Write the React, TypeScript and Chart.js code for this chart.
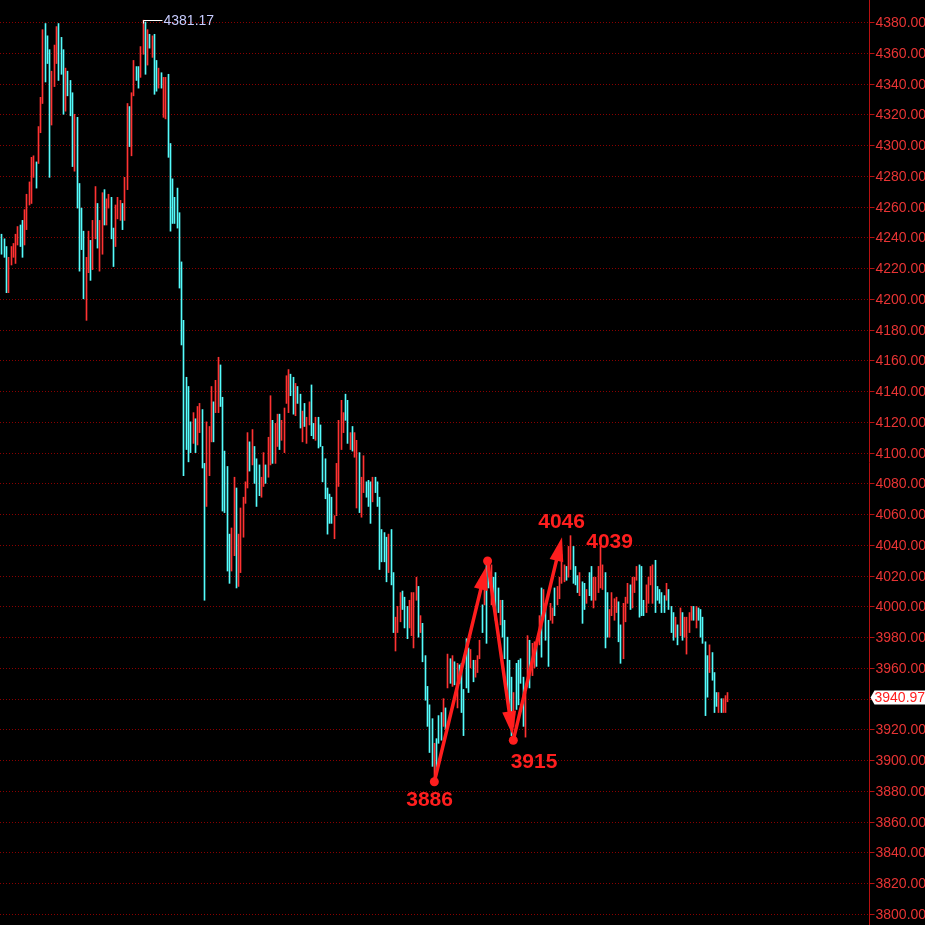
import React, { useEffect, useRef } from 'react';
import { Chart, registerables } from 'chart.js';

Chart.register(...registerables);

// ---- data ----
// bar highs (one per trading bar, left to right)
const highs = [
  // segment A
  4242, 4239, 4234, 4227, 4234, 4236, 4242, 4247, 4248, 4251, 4258, 4268, 4276, 4292, 4293, 4289, 4312, 4331, 4375, 4379,
  4371, 4362, 4348, 4365, 4377, 4379, 4370, 4362, 4350, 4348, 4342, 4334, 4320, 4318, 4275, 4259, 4244, 4227, 4244,
  // segment B
  4238, 4251, 4273, 4262, 4251, 4269, 4271, 4265, 4268, 4266, 4246, 4261, 4266, 4264, 4262, 4279, 4327, 4325, 4334, 4355,
  4351, 4351, 4364, 4381.17, 4380, 4375, 4372, 4371, 4372, 4355, 4350, 4347, 4344, 4344, 4346, 4301, 4278, 4266, 4272, 4256,
  // segment C
  4224, 4186, 4149, 4143, 4120, 4126, 4122, 4130, 4132, 4128, 4093, 4120, 4117, 4143, 4133, 4147, 4162, 4157, 4136, 4101,
  4091, 4047, 4051, 4084, 4077, 4047, 4064, 4071, 4081, 4113, 4107, 4115, 4104, 4096, 4092, 4084, 4100, 4092, 4110, 4137,
  4121, 4119, 4125, 4125, 4121, 4129, 4150, 4154, 4151, 4149, 4145, 4143, 4138,
  // segment D
  4127, 4132, 4123, 4133, 4144, 4119, 4123, 4123, 4118, 4104, 4096, 4077, 4073, 4071, 4059, 4093, 4121, 4134, 4126, 4138,
  4134, 4113, 4117, 4113, 4108, 4100, 4084, 4098, 4081, 4082, 4081, 4084, 4084, 4081, 4071, 4050, 4048, 4045, 4047, 4050,
  4022, 3993, 4000, 4009, 4010, 4006, 4000, 4004, 4009, 4009, 4019, 4013,
  // segment E
  3994, 3989, 3968, 3948, 3936, 3927, 3911, 3914, 3929, 3931, 3940, 3934, 3969, 3966, 3968, 3964, 3963, 3962, 3963, 3946,
  3979, 3973, 3972, 3965, 3965, 3968, 3978, 4001, 4013, 4030, 4027, 4027, 4019, 4022, 4012, 4004, 4004, 3991, 3980, 3965,
  3954, 3944, 3963, 3965, 3966, 3954, 3944, 3981, 3978, 3976, 3977, 3975, 3994, 4012, 4011, 4002, 3991, 4002, 3999, 4012,
  4013, 4019,
  // segment F
  4034, 4027, 4026, 4039, 4046, 4039, 4026, 4020, 4022, 4016, 4015, 4011, 4022, 4026, 4019, 4019, 4026,
  // segment G
  4039, 4027, 4022, 4009, 3998, 4009, 4005, 4006, 4003, 3988, 4002, 4006, 4015, 4014, 4019, 4019, 4026, 4027, 4026, 4004,
  4014, 4019, 4026, 4027, 4030, 4013, 4011, 4009, 4007, 4015, 4011, 4000, 3996, 3993, 3988, 3999, 3996, 3993, 3993, 3996,
  4000, 4000, 4000, 3999, 3998, 3993, 3977, 3968, 3975, 3970, 3957, 3944, 3944, 3940, 3940, 3942, 3944,
];

// bar lows
const lows = [
  4229, 4227, 4204, 4204, 4222, 4227, 4223, 4235, 4234, 4227, 4235, 4245, 4261, 4262, 4279, 4272, 4288, 4308, 4327, 4341,
  4353, 4279, 4313, 4338, 4353, 4342, 4346, 4320, 4322, 4332, 4319, 4286, 4283, 4259, 4218, 4232, 4200, 4186, 4217,
  4212, 4219, 4239, 4233, 4218, 4229, 4248, 4248, 4259, 4239, 4221, 4234, 4252, 4251, 4245, 4251, 4271, 4299, 4293, 4332,
  4342, 4337, 4344, 4359, 4346, 4352, 4363, 4357, 4333, 4335, 4337, 4337, 4318, 4317, 4292, 4244, 4249, 4249, 4246, 4207,
  4170, 4085, 4102, 4094, 4100, 4106, 4100, 4105, 4113, 4090, 4004, 4065, 4085, 4107, 4107, 4126, 4126, 4130, 4062, 4061,
  4023, 4015, 4023, 4033, 4012, 4013, 4022, 4045, 4067, 4077, 4088, 4092, 4080, 4065, 4072, 4071, 4078, 4080, 4084, 4092,
  4093, 4093, 4104, 4102, 4108, 4100, 4132, 4126, 4137, 4125, 4124, 4132, 4116,
  4107, 4117, 4106, 4118, 4111, 4109, 4108, 4103, 4104, 4081, 4070, 4047, 4054, 4054, 4044, 4059, 4078, 4102, 4113, 4121,
  4106, 4102, 4101, 4097, 4064, 4061, 4058, 4074, 4071, 4065, 4054, 4068, 4074, 4065, 4024, 4029, 4029, 4016, 4022, 4014,
  3983, 3971, 3983, 3990, 3998, 3986, 3979, 3986, 3981, 3973, 4004, 3980,
  3983, 3964, 3939, 3922, 3905, 3896, 3886, 3892, 3911, 3913, 3922, 3920, 3947, 3950, 3948, 3949, 3934, 3950, 3931, 3916,
  3947, 3944, 3960, 3951, 3954, 3957, 3966, 3983, 4001, 3976, 4012, 4001, 4000, 3991, 3996, 3988, 3980, 3966, 3941, 3923,
  3916, 3922, 3933, 3936, 3950, 3922, 3915, 3953, 3947, 3955, 3960, 3961, 3975, 3967, 3996, 3978, 3961, 3991, 3989, 3994,
  4001, 4005,
  4015, 4016, 4017, 4019, 4024, 4015, 4014, 4009, 4007, 3989, 3998, 4002, 4007, 4004, 3999, 4004, 4009,
  4012, 4011, 3973, 3980, 3980, 3994, 3991, 3996, 3977, 3963, 3966, 3990, 4002, 3998, 3999, 4009, 4017, 3993, 3994, 3994,
  3996, 4002, 4014, 4002, 3996, 4004, 4002, 3996, 3996, 4004, 3998, 3983, 3978, 3980, 3975, 3981, 3978, 3980, 3969, 3983,
  3991, 3991, 3986, 3991, 3980, 3976, 3929, 3941, 3957, 3952, 3931, 3935, 3931, 3931, 3931, 3931, 3938,
];

// 1 = up bar (red), 0 = down bar (cyan)
const ups = [
  0, 0, 0, 1, 1, 1, 1, 1, 0, 0, 1, 1, 1, 1, 1, 0, 1, 1, 1, 0, 0, 0, 1, 1, 1, 0, 0, 0, 1, 0, 0, 0, 1, 0, 0, 0, 0, 1, 1,
  0, 1, 1, 0, 1, 1, 0, 1, 1, 0, 0, 1, 1, 1, 0, 1, 1, 0, 1, 1, 0, 0, 1, 1, 0, 1, 0, 1, 0, 0, 1, 0, 1, 1, 0, 0, 0, 0, 0, 0,
  0, 0, 0, 0, 0, 1, 0, 1, 1, 0, 0, 1, 1, 1, 0, 1, 1, 0, 0, 0, 0, 0, 1, 1, 0, 1, 1, 1, 1, 1, 0, 1, 0, 0, 0, 1, 1, 0, 1, 1,
  0, 1, 1, 0, 1, 1, 1, 1, 0, 0, 1, 0, 0,
  1, 0, 1, 1, 0, 0, 1, 0, 0, 0, 0, 0, 0, 0, 1, 1, 1, 1, 1, 0, 0, 1, 0, 1, 1, 0, 1, 1, 0, 0, 0, 1, 0, 0, 0, 0, 0, 0, 1, 0,
  0, 1, 1, 1, 0, 0, 0, 1, 1, 1, 1, 0,
  1, 0, 0, 0, 0, 0, 1, 0, 0, 0, 1, 0, 1, 0, 1, 0, 1, 0, 0, 0, 0, 0, 1, 0, 1, 1, 1, 0, 1, 0, 0, 1, 0, 0, 0, 1, 0, 0, 0, 0,
  0, 1, 0, 0, 0, 0, 1, 1, 0, 1, 1, 0, 1, 0, 1, 0, 0, 1, 1, 0, 1, 1,
  1, 1, 0, 1, 1, 0, 0, 0, 1, 0, 0, 1, 0, 0, 1, 1, 1,
  1, 1, 0, 0, 1, 1, 1, 1, 0, 0, 1, 1, 1, 0, 1, 1, 1, 0, 0, 0, 1, 1, 1, 1, 0, 0, 0, 0, 0, 1, 0, 0, 0, 1, 0, 1, 0, 1, 1, 1,
  1, 0, 1, 0, 0, 0, 0, 0, 1, 0, 0, 0, 1, 0, 1, 1, 1,
];

// right axis tick labels
const tickValues = [
  3800, 3820, 3840, 3860, 3880, 3900, 3920, 3940, 3960, 3980, 4000, 4020, 4040, 4060, 4080,
  4100, 4120, 4140, 4160, 4180, 4200, 4220, 4240, 4260, 4280, 4300, 4320, 4340, 4360, 4380,
];

const lastPrice = 3940.97;
const peakIndex = 62;
const peakValue = 4381.17;

// zig-zag annotation (bar index, price)
const zigIdx = [190, 213.4, 224.7, 246.1];
const zigVal = [3886, 4029.5, 3913, 4045];

// annotation labels (bar index, price at text centre)
const noteText = ['3886', '3915', '4046', '4039'];
const noteIdx = [187.9, 233.8, 245.9, 267.0];
const noteVal = [3873.8, 3898.5, 4054.9, 4041.9];

// ---- styling ----
const UP = '#ff3232';
const DOWN = '#54fcfc';
const GRID = '#8a0000';
const AXIS = '#b81010';
const LABEL = '#e83434';
const NOTE = '#ff1e1e';
const FONT = '"Liberation Sans", Arial, sans-serif';

const overlay = {
  id: 'overlay',
  beforeDraw(chart: any) {
    const c = chart.ctx;
    c.save();
    c.fillStyle = '#000';
    c.fillRect(0, 0, chart.width, chart.height);
    c.restore();
  },
  beforeDatasetsDraw(chart: any) {
    const { ctx, chartArea, scales } = chart;
    const y = scales.y;
    ctx.save();
    ctx.strokeStyle = GRID;
    ctx.lineWidth = 1;
    ctx.setLineDash([1, 2]);
    for (const v of tickValues) {
      const py = Math.round(y.getPixelForValue(v)) + 0.5;
      ctx.beginPath();
      ctx.moveTo(chartArea.left, py);
      ctx.lineTo(chartArea.right, py);
      ctx.stroke();
    }
    ctx.restore();
    const meta = chart.getDatasetMeta(0);
    meta.data.forEach((el: any) => {
      el.x = Math.floor(el.x) + 0.5;
    });
  },
  afterDatasetsDraw(chart: any) {
    const { ctx, chartArea, scales } = chart;
    const x = scales.x;
    const y = scales.y;
    const W = chart.width;
    const H = chart.height;
    ctx.save();

    // axis line
    const ax = chartArea.right + 0.5;
    ctx.strokeStyle = AXIS;
    ctx.lineWidth = 1;
    ctx.beginPath();
    ctx.moveTo(ax, 0);
    ctx.lineTo(ax, H);
    ctx.stroke();

    // ticks and labels
    ctx.font = `14px ${FONT}`;
    ctx.textBaseline = 'middle';
    ctx.textAlign = 'left';
    for (const v of tickValues) {
      const py = Math.round(y.getPixelForValue(v)) + 0.5;
      ctx.strokeStyle = AXIS;
      ctx.beginPath();
      ctx.moveTo(ax, py);
      ctx.lineTo(ax + 5, py);
      ctx.stroke();
      ctx.fillStyle = LABEL;
      ctx.fillText(v.toFixed(2), ax + 6, py + 0.5);
    }

    // peak marker
    const meta = chart.getDatasetMeta(0);
    const pel = meta.data[peakIndex];
    const ppx = pel ? pel.x : x.getPixelForValue(peakIndex);
    const ppy = Math.round(y.getPixelForValue(peakValue)) + 0.5;
    ctx.strokeStyle = '#ffffff';
    ctx.lineWidth = 1;
    ctx.beginPath();
    ctx.moveTo(ppx, ppy + 3);
    ctx.lineTo(ppx, ppy);
    ctx.lineTo(ppx + 19, ppy);
    ctx.stroke();
    ctx.fillStyle = '#c8ccff';
    ctx.font = `14px ${FONT}`;
    ctx.fillText(peakValue.toFixed(2), ppx + 20, ppy + 0.5);

    // zig-zag arrows
    const pts = zigIdx.map((ix, i) => ({ x: x.getPixelForValue(ix), y: y.getPixelForValue(zigVal[i]) }));
    ctx.strokeStyle = NOTE;
    ctx.fillStyle = NOTE;
    ctx.lineWidth = 3.5;
    ctx.lineCap = 'round';
    const headLen = 24;
    const headHalf = 7;
    for (let k = 0; k < pts.length - 1; k++) {
      const a = pts[k];
      const b = pts[k + 1];
      const dx = b.x - a.x;
      const dy = b.y - a.y;
      const len = Math.hypot(dx, dy);
      const ux = dx / len;
      const uy = dy / len;
      const back = k < pts.length - 2 ? 5 : 0;
      const tx = b.x - ux * back;
      const ty = b.y - uy * back;
      const bx = tx - ux * headLen;
      const by = ty - uy * headLen;
      ctx.beginPath();
      ctx.moveTo(a.x, a.y);
      ctx.lineTo(bx + ux * 4, by + uy * 4);
      ctx.stroke();
      ctx.beginPath();
      ctx.moveTo(tx, ty);
      ctx.lineTo(bx - uy * headHalf, by + ux * headHalf);
      ctx.lineTo(bx + uy * headHalf, by - ux * headHalf);
      ctx.closePath();
      ctx.fill();
    }
    for (let k = 0; k < pts.length - 1; k++) {
      ctx.beginPath();
      ctx.arc(pts[k].x, pts[k].y, 4.5, 0, Math.PI * 2);
      ctx.fill();
    }

    // labels
    ctx.font = `bold 21px ${FONT}`;
    ctx.textAlign = 'center';
    ctx.textBaseline = 'middle';
    noteText.forEach((t, i) => {
      ctx.fillText(t, x.getPixelForValue(noteIdx[i]), y.getPixelForValue(noteVal[i]));
    });

    // last price tag
    const ly = Math.round(y.getPixelForValue(lastPrice)) + 0.5;
    ctx.fillStyle = '#ffffff';
    ctx.beginPath();
    ctx.moveTo(ax + 1, ly);
    ctx.lineTo(ax + 5, ly - 7);
    ctx.lineTo(W, ly - 7);
    ctx.lineTo(W, ly + 7);
    ctx.lineTo(ax + 5, ly + 7);
    ctx.closePath();
    ctx.fill();
    ctx.fillStyle = '#ff2020';
    ctx.font = `14px ${FONT}`;
    ctx.textAlign = 'left';
    ctx.fillText(lastPrice.toFixed(2), ax + 5, ly + 0.5);

    ctx.restore();
  },
};

export default function App() {
  const ref = useRef<HTMLCanvasElement | null>(null);

  useEffect(() => {
    if (!ref.current) return;
    const data = highs.map((h, i) => ({ x: i, y: [lows[i], h] }));
    const chart = new Chart(ref.current, {
      type: 'bar',
      data: {
        datasets: [
          {
            data: data as any,
            backgroundColor: ups.map((u) => (u ? UP : DOWN)),
            borderWidth: 0,
            barThickness: 1,
            grouped: false,
          } as any,
        ],
      },
      options: {
        responsive: false,
        animation: false,
        devicePixelRatio: 1,
        layout: { padding: { left: 0, right: 56, top: 0, bottom: 0 } },
        plugins: { legend: { display: false }, tooltip: { enabled: false } },
        scales: {
          x: { type: 'linear', min: -0.835, max: 380.98, display: false, offset: false },
          y: { type: 'linear', min: 3792.85, max: 4394.3, display: false },
        },
      },
      plugins: [overlay],
    });
    return () => chart.destroy();
  }, []);

  return (
    <div style={{ position: 'fixed', left: 0, top: 0, width: 925, height: 925, background: '#000' }}>
      <canvas ref={ref} width={925} height={925} style={{ display: 'block' }} />
    </div>
  );
}
